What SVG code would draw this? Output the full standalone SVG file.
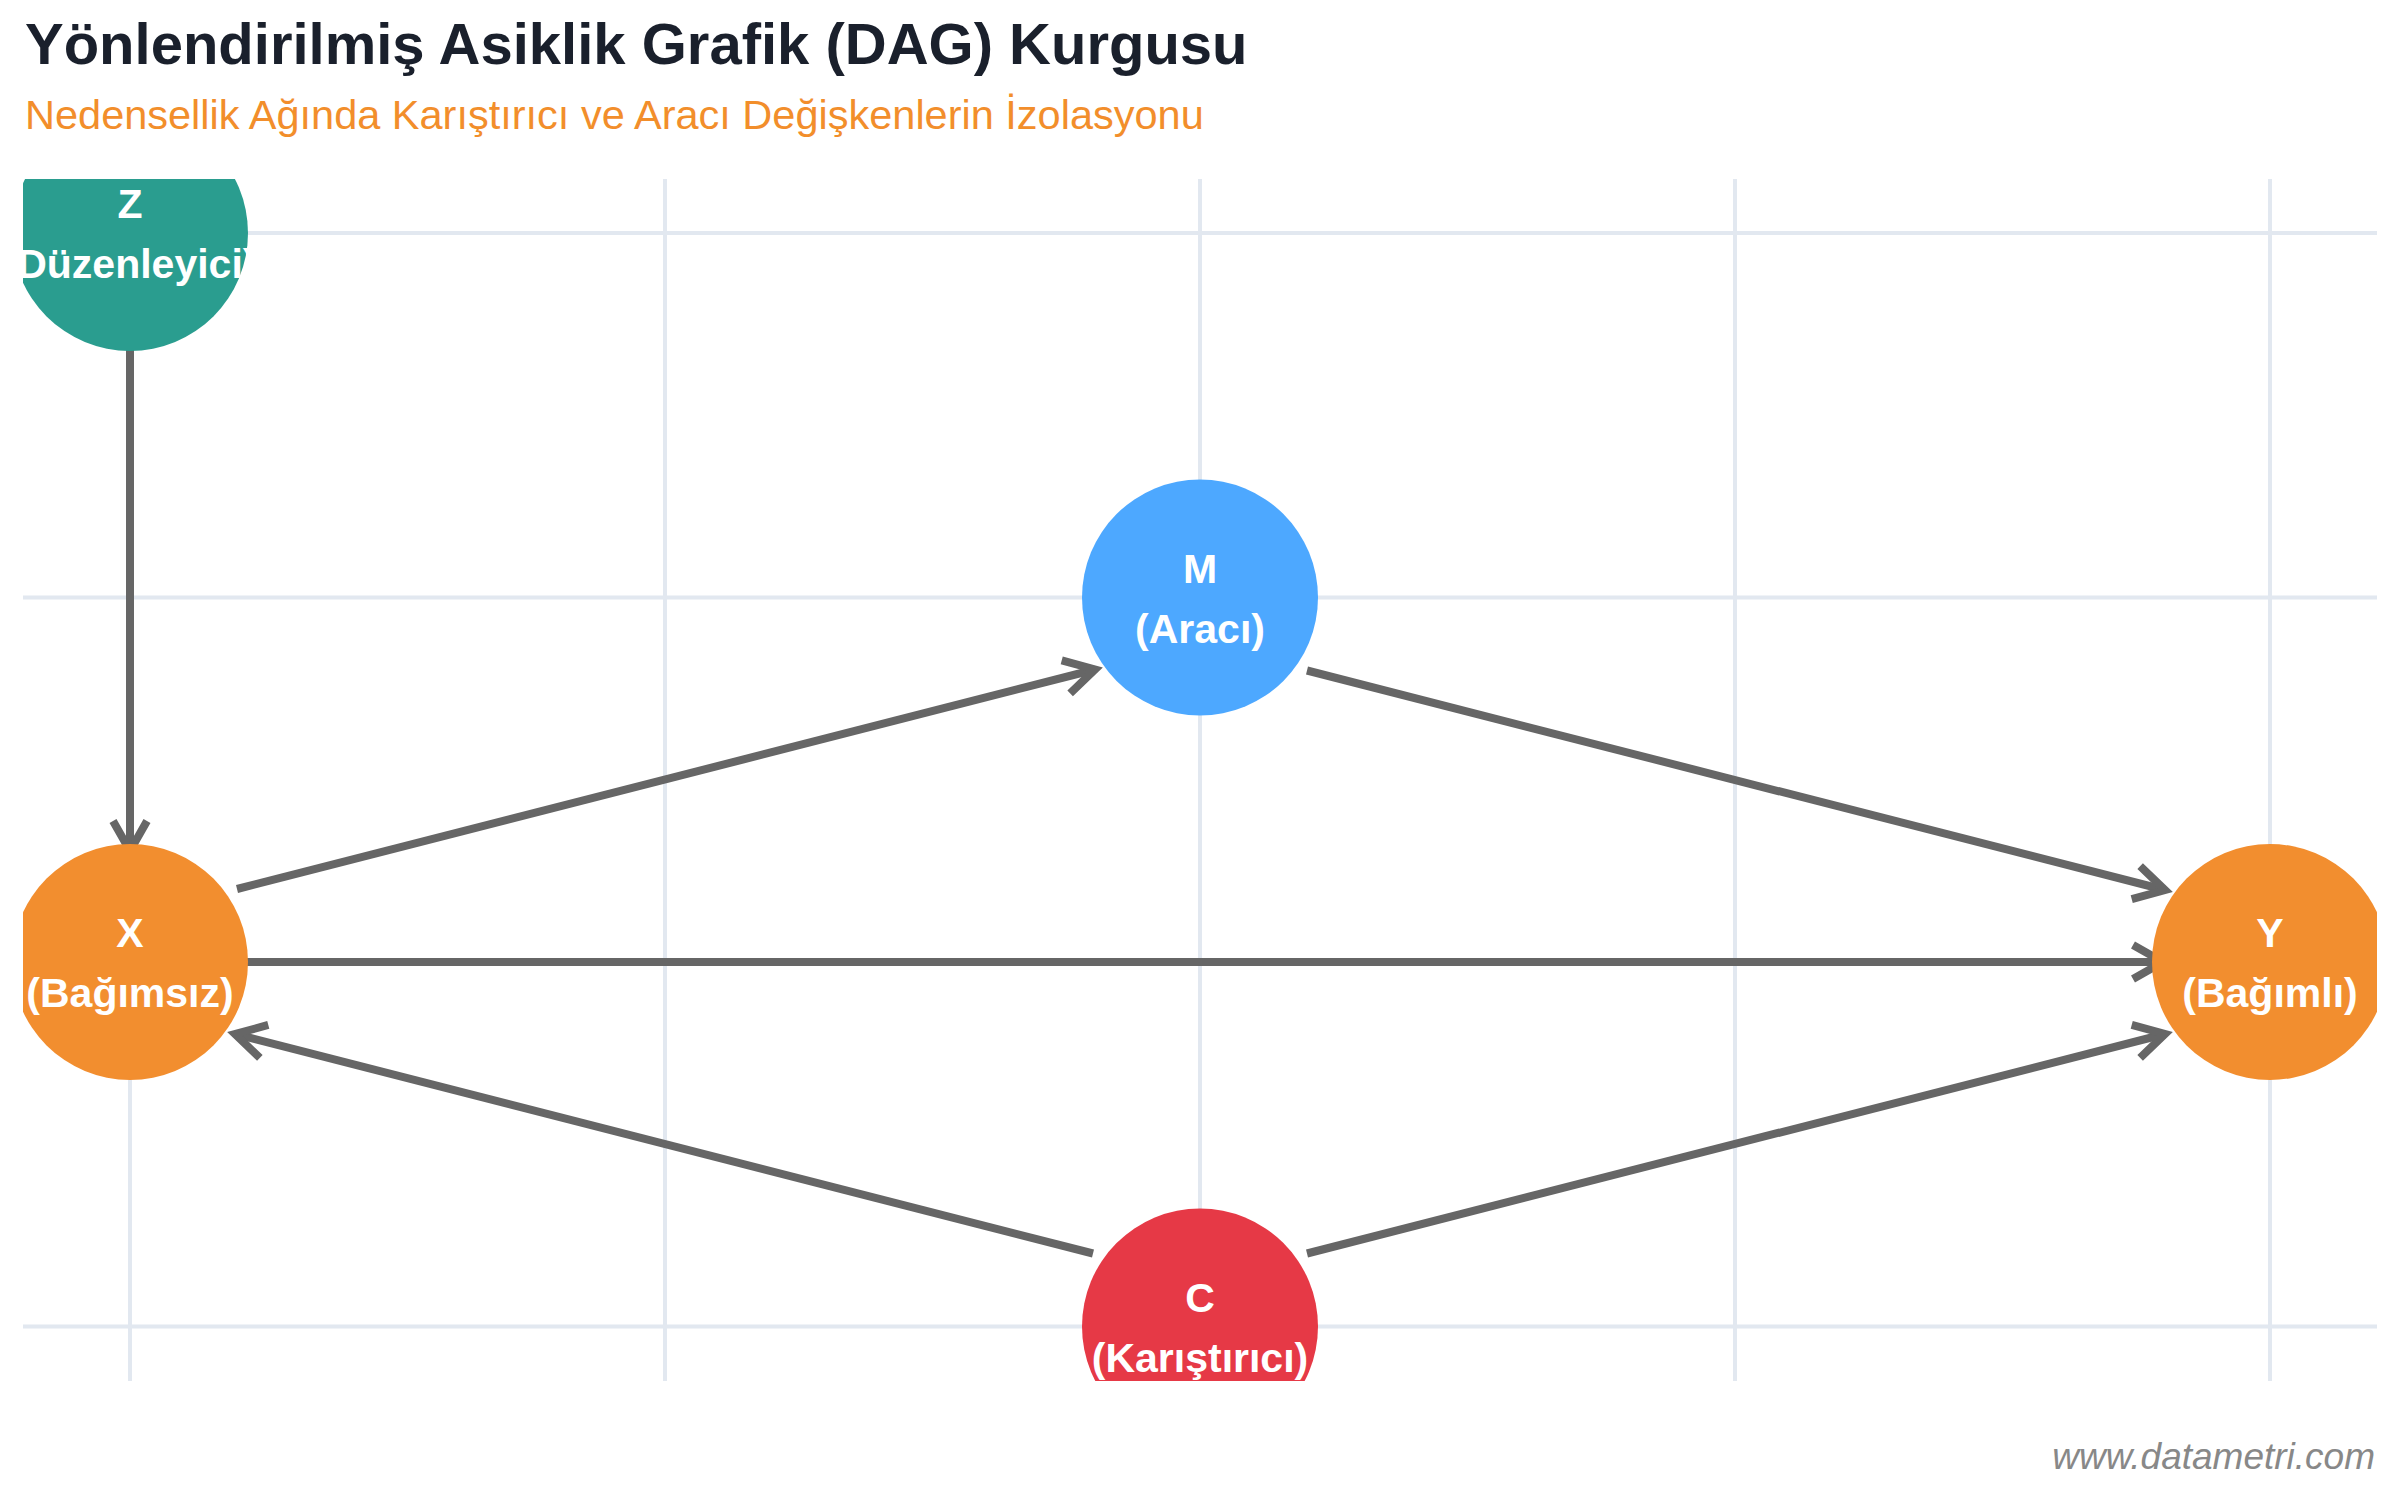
<svg xmlns="http://www.w3.org/2000/svg" width="2400" height="1500" viewBox="0 0 2400 1500">
  <style>
    .title { font-family: "Liberation Sans", Arial, sans-serif; font-weight: bold; font-size: 58px; fill: #1a202c; }
    .subtitle { font-family: "Liberation Sans", Arial, sans-serif; font-size: 41.5px; fill: #f28e2b; }
    .grid { stroke: #e2e8f0; stroke-width: 4; fill: none; }
    .edge { stroke: #666666; stroke-width: 8; fill: none; marker-end: url(#arrow); }
    .lbl { font-family: "Liberation Sans", Arial, sans-serif; font-weight: bold; font-size: 41px; fill: #ffffff; text-anchor: middle; }
    .wm { font-family: "Liberation Sans", Arial, sans-serif; font-style: italic; font-size: 37px; fill: #888888; text-anchor: end; }
  </style>
  <defs>
    <clipPath id="plot">
      <rect x="23" y="179" width="2354" height="1202"/>
    </clipPath>
    <marker id="arrow" markerUnits="userSpaceOnUse" orient="auto" refX="0" refY="0" markerWidth="80" markerHeight="80" overflow="visible">
      <path d="M -30 -17 L 0 0 L -30 17" stroke="#666666" stroke-width="8" fill="none" stroke-linejoin="miter" stroke-miterlimit="10"/>
    </marker>
  </defs>
  <rect x="0" y="0" width="2400" height="1500" fill="#ffffff"/>
  <text class="title" x="25" y="64">Yönlendirilmiş Asiklik Grafik (DAG) Kurgusu</text>
  <text class="subtitle" x="25" y="129">Nedensellik Ağında Karıştırıcı ve Aracı Değişkenlerin İzolasyonu</text>
  <g id="plot-area" clip-path="url(#plot)">
    <g id="grid">
      <line class="grid" x1="130" y1="179" x2="130" y2="1381"/>
      <line class="grid" x1="665" y1="179" x2="665" y2="1381"/>
      <line class="grid" x1="1200" y1="179" x2="1200" y2="1381"/>
      <line class="grid" x1="1735" y1="179" x2="1735" y2="1381"/>
      <line class="grid" x1="2270" y1="179" x2="2270" y2="1381"/>
      <line class="grid" x1="23" y1="233" x2="2377" y2="233"/>
      <line class="grid" x1="23" y1="597.5" x2="2377" y2="597.5"/>
      <line class="grid" x1="23" y1="962" x2="2377" y2="962"/>
      <line class="grid" x1="23" y1="1326.5" x2="2377" y2="1326.5"/>
    </g>
    <g id="connectors">
      <line id="e-z-x" class="edge" x1="130" y1="342" x2="130" y2="851"/>
      <line id="e-x-m" class="edge" x1="237" y1="889" x2="1095" y2="669.5"/>
      <line id="e-m-y" class="edge" x1="1307" y1="670.5" x2="2165" y2="890"/>
      <line id="e-x-y" class="edge" x1="237" y1="962" x2="2163" y2="962"/>
      <line id="e-c-x" class="edge" x1="1093" y1="1253.5" x2="235" y2="1034"/>
      <line id="e-c-y" class="edge" x1="1307" y1="1253.5" x2="2165" y2="1034"/>
    </g>
    <g id="node-z">
      <circle cx="130" cy="233" r="118" fill="#2a9d8f"/>
      <text class="lbl" x="130" y="218">Z</text>
      <text class="lbl" x="130" y="278">(Düzenleyici)</text>
    </g>
    <g id="node-m">
      <circle cx="1200" cy="597.5" r="118" fill="#4da8ff"/>
      <text class="lbl" x="1200" y="582.5">M</text>
      <text class="lbl" x="1200" y="642.5">(Aracı)</text>
    </g>
    <g id="node-x">
      <circle cx="130" cy="962" r="118" fill="#f28e2f"/>
      <text class="lbl" x="130" y="947">X</text>
      <text class="lbl" x="130" y="1007">(Bağımsız)</text>
    </g>
    <g id="node-y">
      <circle cx="2270" cy="962" r="118" fill="#f28e2f"/>
      <text class="lbl" x="2270" y="947">Y</text>
      <text class="lbl" x="2270" y="1007">(Bağımlı)</text>
    </g>
    <g id="node-c">
      <circle cx="1200" cy="1326.5" r="118" fill="#e63946"/>
      <text class="lbl" x="1200" y="1311.5">C</text>
      <text class="lbl" x="1200" y="1371.5">(Karıştırıcı)</text>
    </g>
  </g>
  <text class="wm" x="2375" y="1469">www.datametri.com</text>
</svg>
